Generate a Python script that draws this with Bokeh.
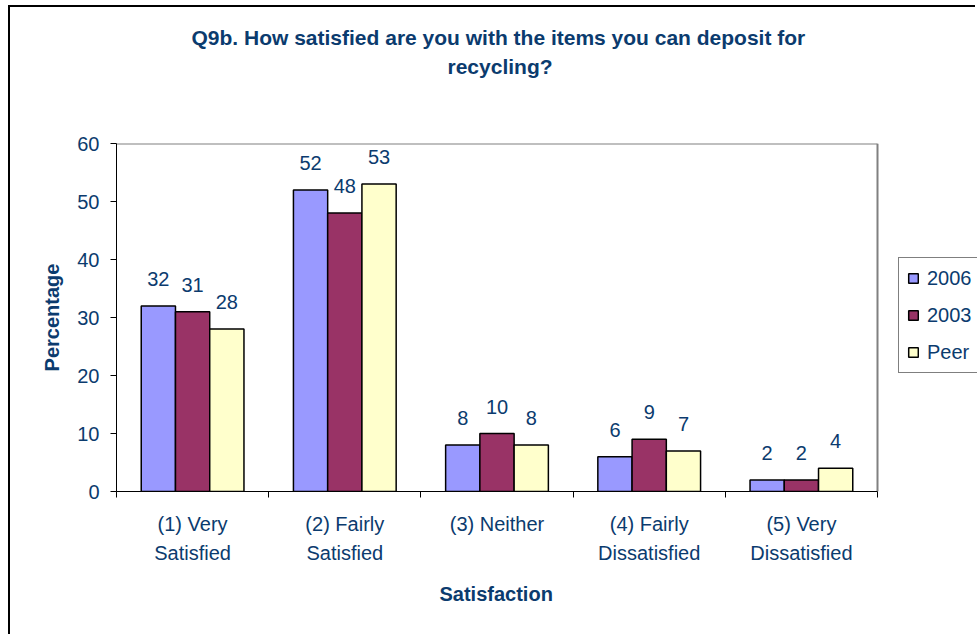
from bokeh.plotting import figure
from bokeh.models import (Range1d, FixedTicker, Legend, LegendItem,
                          ColumnDataSource, LabelSet, Title)
from bokeh.core.properties import value
from bokeh.embed import file_html
from bokeh.resources import INLINE

# ---- data ----
categories = ["(1) Very\nSatisfied", "(2) Fairly\nSatisfied", "(3) Neither",
              "(4) Fairly\nDissatisfied", "(5) Very\nDissatisfied"]
series_names = ["2006", "2003", "Peer"]
values_2006 = [32, 52, 8, 6, 2]
values_2003 = [31, 48, 10, 9, 2]
values_peer = [28, 53, 8, 7, 4]
y_ticks = [0, 10, 20, 30, 40, 50, 60]

title_line1 = "Q9b. How satisfied are you with the items you can deposit for"
title_line2 = "recycling?"
x_label = "Satisfaction"
y_label = "Percentage"

# ---- style / layout ----
NAVY = "#0B3B6E"
FONT = "Liberation Sans"
colors = ["#9999FF", "#993366", "#FFFFCC"]
bar_w = 0.225
offsets = [-0.225, 0.0, 0.225]

W, H = 967, 629
LEFT, TOP, BOTTOM = 106, 136, 145
PLOT_W = 761                      # width of the bar area in px
FRAME_W = W - LEFT                # frame runs to the right edge (legend lives in it)
n = len(categories)
y_max = max(y_ticks)
x_end = n * FRAME_W / PLOT_W

p = figure(width=W, height=H, output_backend="svg", toolbar_location=None,
           x_range=Range1d(0, x_end), y_range=Range1d(0, y_max),
           min_border_left=LEFT, min_border_right=0, min_border_top=TOP,
           min_border_bottom=BOTTOM)
p.styles = {"border-left": "2px solid #000000", "border-top": "2px solid #000000",
            "margin-left": "8px", "margin-top": "5px"}

p.background_fill_color = "white"
p.border_fill_color = "white"
p.outline_line_color = None
p.xgrid.visible = False
p.ygrid.visible = False

# plot-area border (top and right, grey)
p.segment(x0=[0, n], y0=[y_max, 0], x1=[n, n], y1=[y_max, y_max],
          line_color="#808080", line_width=2)

renderers = []
for name, vals, col, off in zip(series_names, [values_2006, values_2003, values_peer], colors, offsets):
    src = ColumnDataSource(dict(x=[i + 0.5 + off for i in range(len(vals))],
                                top=vals, label=[str(v) for v in vals]))
    r = p.vbar(x="x", top="top", width=bar_w, bottom=0, source=src,
               fill_color=col, line_color="black", line_width=1.5)
    renderers.append(r)
    p.add_layout(LabelSet(x="x", y="top", text="label", source=src,
                          y_offset=27, text_align="center", text_baseline="middle",
                          text_font=value(FONT), text_font_size="20px", text_color=NAVY))

# x axis
xa = p.xaxis[0]
xa.bounds = (0, n)
xa.ticker = FixedTicker(ticks=[i + 0.5 for i in range(n)],
                        minor_ticks=list(range(n + 1)))
xa.major_label_overrides = {i + 0.5: c for i, c in enumerate(categories)}
xa.major_tick_out = 0
xa.major_tick_in = 0
xa.minor_tick_out = 6
xa.minor_tick_in = 0
xa.minor_tick_line_color = "black"
xa.axis_line_color = "black"
xa.major_label_text_font = FONT
xa.major_label_text_font_size = "20px"
xa.major_label_text_color = NAVY
xa.major_label_text_line_height = 1.36
xa.major_label_standoff = 15

# y axis
ya = p.yaxis[0]
ya.ticker = FixedTicker(ticks=y_ticks)
ya.major_tick_out = 6
ya.major_tick_in = 0
ya.minor_tick_out = 0
ya.minor_tick_in = 0
ya.axis_line_color = "black"
ya.major_label_text_font = FONT
ya.major_label_text_font_size = "20px"
ya.major_label_text_color = NAVY
ya.major_label_standoff = 11
ya.axis_label = y_label
ya.axis_label_text_font = FONT
ya.axis_label_text_font_size = "20px"
ya.axis_label_text_font_style = "bold"
ya.axis_label_text_color = NAVY
ya.axis_label_standoff = 11

def style_title(t, size="21px"):
    t.text_font = FONT
    t.text_font_size = size
    t.text_font_style = "bold"
    t.text_color = NAVY

# titles: p.title is outermost (line 1); spacer nearest the frame, then line 2
p.title.text = title_line1
style_title(p.title)
p.title.align = "left"
p.title.offset = 75
p.title.standoff = 8
spacer_top = Title(text="\u00a0", standoff=63, text_font_size="1px")
p.add_layout(spacer_top, "above")
t2 = Title(text=title_line2, standoff=0, align="left", offset=331)
style_title(t2)
p.add_layout(t2, "above")

# x axis title (placed under the tick labels, centred on the bar area)
tx = Title(text=x_label, align="left", offset=323, standoff=31, vertical_align="top")
style_title(tx, "20px")
p.add_layout(tx, "below")

# legend
legend = Legend(items=[LegendItem(label=nm, renderers=[r]) for nm, r in zip(series_names, renderers)],
                location=(782, 118), orientation="vertical",
                glyph_width=12, glyph_height=12, label_standoff=8,
                label_height=24, spacing=13, padding=8, margin=0,
                label_text_font=FONT, label_text_font_size="20px",
                label_text_color=NAVY, border_line_color="black",
                border_line_width=1, background_fill_color="white",
                background_fill_alpha=1.0)
p.add_layout(legend, "center")

open("out.html", "w").write(file_html(p, INLINE))
